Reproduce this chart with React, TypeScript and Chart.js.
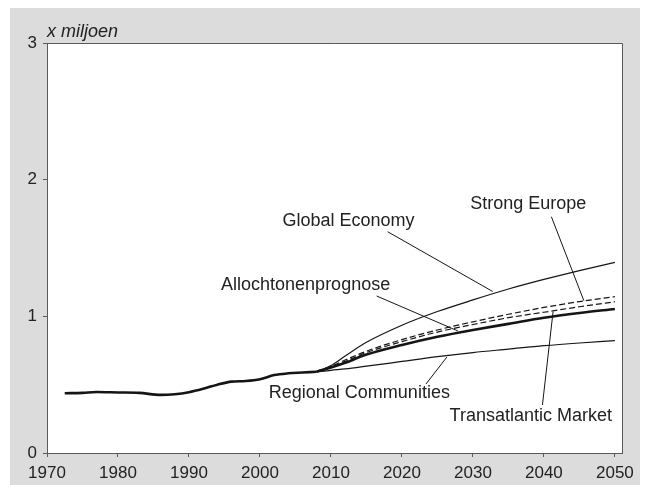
import React, { useEffect, useRef } from "react";
import { Chart, registerables } from "chart.js";

Chart.register(...registerables);

// ---- Data ----
const historyYears = [1972.5, 1975, 1977, 1980, 1983, 1986, 1988, 1990, 1992, 1994, 1996, 1998, 2000, 2002, 2004, 2006, 2008];
const historyValues = [0.437, 0.44, 0.446, 0.443, 0.44, 0.425, 0.43, 0.445, 0.47, 0.5, 0.522, 0.527, 0.54, 0.57, 0.583, 0.589, 0.595];

const scenarioYears = [2008, 2010, 2012, 2015, 2020, 2025, 2030, 2035, 2040, 2045, 2050];
const globalEconomy = [0.595, 0.64, 0.71, 0.81, 0.935, 1.035, 1.12, 1.2, 1.27, 1.335, 1.395];
const strongEurope = [0.598, 0.635, 0.68, 0.745, 0.83, 0.9, 0.96, 1.015, 1.065, 1.108, 1.144];
const transatlanticMarket = [0.597, 0.63, 0.67, 0.735, 0.815, 0.885, 0.94, 0.99, 1.03, 1.07, 1.107];
const allochtonenprognose = [0.595, 0.625, 0.66, 0.72, 0.79, 0.85, 0.9, 0.945, 0.99, 1.025, 1.054];
const regionalCommunities = [0.593, 0.605, 0.615, 0.635, 0.67, 0.705, 0.735, 0.76, 0.785, 0.805, 0.822];

const xTicks = [1970, 1980, 1990, 2000, 2010, 2020, 2030, 2040, 2050];
const yTicks = [0, 1, 2, 3];
const yUnitLabel = "x miljoen";

// Annotation labels: text, anchor (year, value) of text baseline centre, leader line from/to (year, value)
const labelTexts = ["Global Economy", "Strong Europe", "Allochtonenprognose", "Regional Communities", "Transatlantic Market"];
const labelAnchors = [
  [2012.46, 1.661],
  [2037.8, 1.783],
  [2006.43, 1.193],
  [2014.0, 0.399],
  [2038.15, 0.236],
];
const leaderFrom = [
  [2017.99, 1.619],
  [2041.05, 1.729],
  [2016.43, 1.149],
  [2023.39, 0.505],
  [2039.79, 0.351],
];
const leaderTo = [
  [2032.78, 1.182],
  [2045.63, 1.114],
  [2027.88, 0.893],
  [2026.33, 0.702],
  [2041.29, 1.034],
];

const toPoints = (xs: number[], ys: number[]) => xs.map((x, i) => ({ x, y: ys[i] }));

const FONT = "'Liberation Sans', Arial, Helvetica, sans-serif";
const LINE = "#151515";

export default function App() {
  const ref = useRef<HTMLCanvasElement | null>(null);

  useEffect(() => {
    if (!ref.current) return;

    const annotationPlugin = {
      id: "annotations",
      beforeDraw(chart: any) {
        const { ctx, chartArea } = chart;
        ctx.save();
        ctx.fillStyle = "#ffffff";
        ctx.fillRect(chartArea.left, chartArea.top, chartArea.right - chartArea.left, chartArea.bottom - chartArea.top);
        ctx.restore();
      },
      afterDatasetsDraw(chart: any) {
        const { ctx, chartArea, scales } = chart;
        const xs = scales.x;
        const ys = scales.y;
        ctx.save();
        // top and right frame
        ctx.strokeStyle = "#5a5a5a";
        ctx.lineWidth = 1;
        ctx.beginPath();
        ctx.moveTo(chartArea.left, Math.round(chartArea.top) + 0.5);
        ctx.lineTo(Math.round(chartArea.right) + 0.5, Math.round(chartArea.top) + 0.5);
        ctx.lineTo(Math.round(chartArea.right) + 0.5, chartArea.bottom);
        ctx.stroke();

        // leader lines
        ctx.strokeStyle = LINE;
        ctx.lineWidth = 1;
        for (let i = 0; i < labelTexts.length; i++) {
          ctx.beginPath();
          ctx.moveTo(xs.getPixelForValue(leaderFrom[i][0]), ys.getPixelForValue(leaderFrom[i][1]));
          ctx.lineTo(xs.getPixelForValue(leaderTo[i][0]), ys.getPixelForValue(leaderTo[i][1]));
          ctx.stroke();
        }
        // texts
        ctx.fillStyle = "#222";
        ctx.font = `18px ${FONT}`;
        ctx.textAlign = "center";
        ctx.textBaseline = "alphabetic";
        for (let i = 0; i < labelTexts.length; i++) {
          ctx.fillText(labelTexts[i], xs.getPixelForValue(labelAnchors[i][0]), ys.getPixelForValue(labelAnchors[i][1]));
        }
        // unit label
        ctx.font = `italic 18px ${FONT}`;
        ctx.textAlign = "left";
        ctx.fillText(yUnitLabel, chartArea.left, chartArea.top - 6.3);
        ctx.restore();
      },
    };

    const thin = {
      borderColor: LINE,
      borderWidth: 1.2,
      pointRadius: 0,
      fill: false,
      cubicInterpolationMode: "monotone" as const,
    };
    const thick = { ...thin, borderWidth: 2.6 };

    const chart = new Chart(ref.current, {
      type: "line",
      data: {
        datasets: [
          { label: "Historie", data: toPoints(historyYears, historyValues), ...thick },
          { label: "Global Economy", data: toPoints(scenarioYears, globalEconomy), ...thin },
          { label: "Strong Europe", data: toPoints(scenarioYears, strongEurope), ...thin, borderDash: [6, 3] },
          { label: "Transatlantic Market", data: toPoints(scenarioYears, transatlanticMarket), ...thin, borderDash: [6, 3] },
          { label: "Regional Communities", data: toPoints(scenarioYears, regionalCommunities), ...thin },
          { label: "Allochtonenprognose", data: toPoints(scenarioYears, allochtonenprognose), ...thick },
        ],
      },
      options: {
        animation: false,
        responsive: false,
        events: [],
        layout: { padding: { top: 35, right: 15, left: 0, bottom: 0 } },
        plugins: {
          legend: { display: false },
          tooltip: { enabled: false },
        },
        scales: {
          x: {
            type: "linear",
            min: 1970,
            max: 2051,
            afterBuildTicks: (s: any) => {
              s.ticks = xTicks.map((v) => ({ value: v }));
            },
            afterFit: (s: any) => {
              s.height = 32;
            },
            grid: { drawOnChartArea: false, drawTicks: true, tickLength: 4, tickColor: "#5a5a5a" },
            border: { display: true, color: "#5a5a5a", width: 1 },
            ticks: {
              padding: 6,
              color: "#222",
              font: { family: FONT, size: 17 },
              maxRotation: 0,
              autoSkip: false,
              callback: (v: any) => String(v),
            },
          },
          y: {
            type: "linear",
            min: 0,
            max: 3,
            afterBuildTicks: (s: any) => {
              s.ticks = yTicks.map((v) => ({ value: v }));
            },
            afterFit: (s: any) => {
              s.width = 37;
            },
            grid: { drawOnChartArea: false, drawTicks: true, tickLength: 4, tickColor: "#5a5a5a" },
            border: { display: true, color: "#5a5a5a", width: 1 },
            ticks: {
              padding: 6,
              color: "#222",
              font: { family: FONT, size: 17 },
              callback: (v: any) => String(v),
            },
          },
        },
      },
      plugins: [annotationPlugin],
    });

    return () => chart.destroy();
  }, []);

  return (
    <div style={{ marginLeft: 2, width: 630, height: 477, background: "#dcdcdc" }}>
      <canvas ref={ref} width={630} height={477} style={{ display: "block", background: "transparent" }} />
    </div>
  );
}
